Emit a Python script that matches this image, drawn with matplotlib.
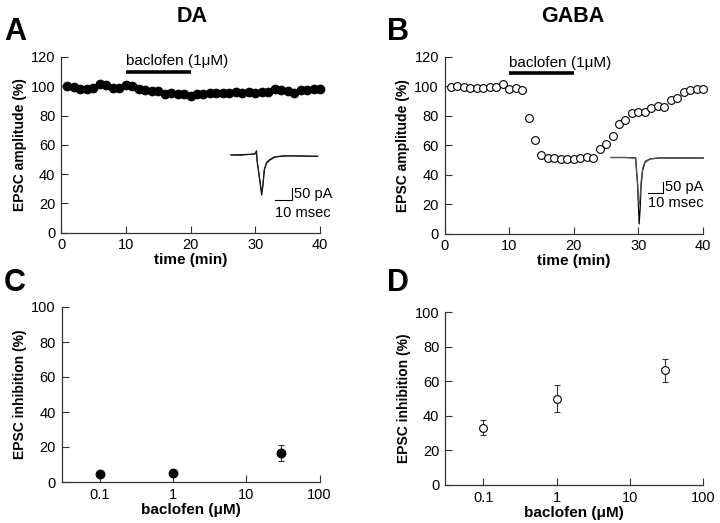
import matplotlib
matplotlib.use("Agg")
import matplotlib.pyplot as plt
import numpy as np

plt.rcParams['font.family'] = ['Liberation Sans', 'DejaVu Sans']

# ---------------- data ----------------
time_min = list(range(1, 41))
da_amp = [100.5, 99.3, 98, 98, 99, 101.5, 101, 98.5, 99, 101,
          100, 98, 97.5, 96.5, 96.5, 94.5, 95.5, 95, 94.5, 93.5,
          95, 94.5, 95.5, 95.5, 95.5, 95.5, 96, 95.5, 96, 95.5,
          96, 96, 98, 97.5, 97, 95.5, 97.5, 97.5, 98, 98]
gaba_amp = [99.5, 100.5, 99.5, 98.6, 98.6, 98.6, 99.5, 99.5, 101.8, 98,
            99, 97.3, 78.7, 63.3, 53.2, 51.6, 51.1, 50.7, 50.4, 50.7,
            51.6, 52, 51, 57.4, 60.6, 66.5, 74.2, 77, 81.9, 82.4,
            82.8, 85.5, 86.9, 86, 91, 91.9, 96, 97.3, 98.2, 98.2]
drug_period = [10, 20]
drug_label = "baclofen (1\u03bcM)"

conc_uM = [0.1, 1, 30]
da_inhib = [4.8, 5.3, 16.6]
da_err = [1.0, 1.0, 4.4]
gaba_inhib = [33.1, 50.0, 66.3]
gaba_err = [4.2, 7.8, 6.5]

# example EPSC traces (msec, pA)
da_trace_t = [0, 5.4, 11.4, 14.4, 15.3, 15.6, 16.8, 18.4, 19.2, 20.0, 21.4, 23.4, 26.3, 32.3, 41.3, 52]
da_trace1_i = [0, 1, 3, 5, 18, -22, -85, -171, -128, -64, -34, -21, -9, -4, -4, -6]
da_trace2_i = [0, -1, 2, 4, 15, -20, -80, -160, -120, -60, -30, -18, -7, -3, -5, -5]
gaba_trace_t = [0, 9.1, 16.0, 16.6, 17.3, 17.8, 18.3, 18.9, 19.6, 20.6, 22.2, 25.5, 32, 60]
gaba_trace1_i = [0, 0, -2, -53, -117, -203, -284, -224, -117, -53, -19, -6, -2, -2]
gaba_trace2_i = [0, 0, -2, -60, -110, -180, -200, -170, -100, -45, -16, -5, -2, -2]
scale_t = 10   # msec
scale_i = 50   # pA

# ---------------- figure ----------------
W, H = 720, 523
fig = plt.figure(figsize=(7.2, 5.23), dpi=100)

def ax_px(l, r, top, bot):
    return fig.add_axes([l / W, 1 - bot / H, (r - l) / W, (bot - top) / H])

spine_c = '#333333'

def style(ax):
    for s in ['top', 'right']:
        ax.spines[s].set_visible(False)
    for s in ['left', 'bottom']:
        ax.spines[s].set_color(spine_c)
        ax.spines[s].set_linewidth(0.9)
    ax.tick_params(direction='in', length=5, width=0.8, color=spine_c,
                   labelsize=10.5, pad=4)
    ax.tick_params(which='minor', length=0)

axA = ax_px(61, 320, 57, 232.5)
axB = ax_px(444.5, 703, 57, 233.5)
axC = ax_px(61.5, 319.5, 307, 482)
axD = ax_px(445, 703, 312, 485)

for ax, y, fc, ms in [(axA, da_amp, 'black', 6.2), (axB, gaba_amp, 'white', 5.6)]:
    style(ax)
    ax.plot(time_min, y, 'o', mfc=fc, mec='black', mew=0.8, ms=ms, clip_on=False)
    ax.set_xlim(0, 40)
    ax.set_ylim(0, 120)
    ax.set_xticks([0, 10, 20, 30, 40])
    ax.set_yticks([0, 20, 40, 60, 80, 100, 120])
    ax.set_xlabel('time (min)', fontsize=11, fontweight='bold', labelpad=1)
    ax.set_ylabel('EPSC amplitude (%)', fontsize=10, fontweight='bold', labelpad=3)

axA.plot(drug_period, [110, 110], color='black', lw=2.6, solid_capstyle='butt')
axA.text(drug_period[0], 114.3, drug_label, fontsize=11, ha='left', va='baseline')
axB.plot(drug_period, [109, 109], color='black', lw=2.6, solid_capstyle='butt')
axB.text(drug_period[0], 113.3, drug_label, fontsize=11, ha='left', va='baseline')

for ax, y, e, fc, ms in [(axC, da_inhib, da_err, 'black', 6.3), (axD, gaba_inhib, gaba_err, 'white', 5.6)]:
    style(ax)
    ax.set_xscale('log')
    ax.errorbar(conc_uM, y, yerr=e, fmt='none', ecolor='#333333', elinewidth=0.8,
                capsize=2.5, capthick=0.8, zorder=2)
    ax.plot(conc_uM, y, 'o', mfc=fc, mec='black', mew=0.8, ms=ms, zorder=3)
    ax.set_xlim(0.03, 100)
    ax.set_ylim(0, 100)
    ax.set_xticks([0.1, 1, 10, 100])
    ax.set_xticklabels(['0.1', '1', '10', '100'])
    ax.set_yticks([0, 20, 40, 60, 80, 100])
    ax.set_xlabel('baclofen (\u03bcM)', fontsize=11, fontweight='bold', labelpad=1)
    ax.set_ylabel('EPSC inhibition (%)', fontsize=10, fontweight='bold', labelpad=3)

# ---------------- insets ----------------
def inset(l, r, top, bot, t0px, base_px, ms_per_px, pa_per_px):
    ax = ax_px(l, r, top, bot)
    ax.set_xlim((l - t0px) * ms_per_px, (r - t0px) * ms_per_px)
    ax.set_ylim((base_px - bot) * pa_per_px, (base_px - top) * pa_per_px)
    ax.axis('off')
    return ax

insA = inset(225, 330, 140, 220, 231, 155, 0.6, 4.27)
insA.plot(da_trace_t, da_trace1_i, color='black', lw=0.9)
insA.plot(da_trace_t, da_trace2_i, color='#222222', lw=0.7)
bx, by = 36.6, -192
insA.plot([bx - scale_t, bx, bx], [by, by, by + scale_i], color='black', lw=0.8)
insA.text(bx + 1.5, by + scale_i / 2, '50 pA', fontsize=10.5, ha='left', va='center')
insA.text(bx - scale_t, by - 26, '10 msec', fontsize=10.5, ha='left', va='top')

insB = inset(605, 715, 140, 235, 611, 157.5, 0.65, 4.27)
insB.plot(gaba_trace_t, gaba_trace1_i, color='black', lw=0.9)
insB.plot(gaba_trace_t, gaba_trace2_i, color='#555555', lw=0.8)
bx, by = 33.8, -153
insB.plot([bx - scale_t, bx, bx], [by, by, by + scale_i], color='black', lw=0.8)
insB.text(bx + 1.5, by + scale_i / 2, '50 pA', fontsize=10.5, ha='left', va='center')
insB.text(bx - scale_t, by - 12, '10 msec', fontsize=10.5, ha='left', va='top')

# ---------------- titles & panel letters ----------------
fig.text(192 / W, 1 - 16 / H, 'DA', fontsize=15.5, fontweight='bold', ha='center', va='center')
fig.text(573 / W, 1 - 16 / H, 'GABA', fontsize=15.5, fontweight='bold', ha='center', va='center')
for x, y, s in [(4, 32, 'A'), (387, 32, 'B'), (4, 283, 'C'), (387, 283, 'D')]:
    fig.text(x / W, 1 - y / H, s, fontsize=22, fontweight='bold', ha='left', va='center')

fig.savefig('out.png', dpi=100)
